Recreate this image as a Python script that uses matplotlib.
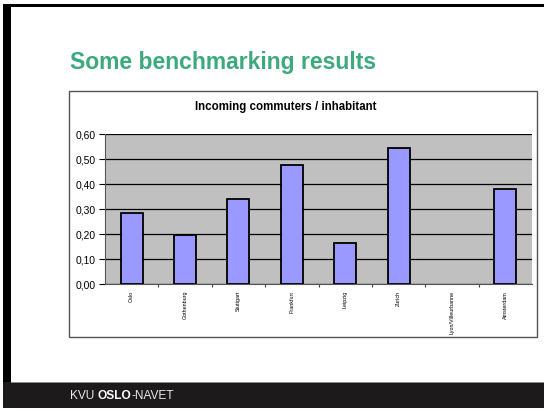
import matplotlib
matplotlib.use("Agg")
import matplotlib.pyplot as plt
from matplotlib.patches import Rectangle
from matplotlib.ticker import FuncFormatter, FixedLocator

plt.rcParams['font.family'] = ['Liberation Sans', 'DejaVu Sans']

cities = ["Oslo", "Gothenburg", "Stuttgart", "Frankfurt", "Leipzig", "Zurich",
          "Lyon/Villeurbanne", "Amsterdam"]
values = [0.283, 0.197, 0.341, 0.477, 0.165, 0.545, 0.0, 0.381]
y_ticks = [0.0, 0.1, 0.2, 0.3, 0.4, 0.5, 0.6]

W, H = 544, 411
fig = plt.figure(figsize=(W / 100, H / 100), dpi=100, facecolor="white")

def fx(px):
    return px / W

def fy(py):
    return 1 - py / H

# slide frame
fig.patches.append(Rectangle((fx(3), fy(7)), fx(541), 3 / H, transform=fig.transFigure,
                             facecolor="black", edgecolor="none", zorder=0))
fig.patches.append(Rectangle((fx(3), fy(408)), 8 / W, 404 / H, transform=fig.transFigure,
                             facecolor="black", edgecolor="none", zorder=0))
# footer
fig.patches.append(Rectangle((fx(3), fy(408)), fx(541), 26 / H, transform=fig.transFigure,
                             facecolor="#1c1a1a", edgecolor="none", zorder=0))
fig.patches.append(Rectangle((fx(11), fy(383)), fx(533), 1 / H, transform=fig.transFigure,
                             facecolor="#8a8a8a", edgecolor="none", zorder=0))

# chart box
fig.patches.append(Rectangle((fx(69), fy(337)), 468 / W, 246 / H, transform=fig.transFigure,
                             facecolor="white", edgecolor="#555555", linewidth=1.0, zorder=0))

# slide title
fig.text(fx(70), fy(62), "Some benchmarking results", fontsize=16.5, fontweight="bold",
         color="#3daa7d", ha="left", va="center")

# chart title
fig.text(fx(285.5), fy(107), "Incoming commuters / inhabitant", fontsize=8.3,
         fontweight="bold", color="black", ha="center", va="center")

# footer text
t1 = fig.text(fx(70), fy(396), "KVU ", fontsize=8.6, color="#e8e8e8", ha="left", va="center")
t2 = fig.text(0, 0, "OSLO", fontsize=8.6, color="#ffffff", fontweight="bold")
t3 = fig.text(0, 0, "-NAVET", fontsize=8.6, color="#e8e8e8")
fig.canvas.draw()
r = fig.canvas.get_renderer()
bb1 = t1.get_window_extent(r)
t2.set_position((bb1.x1 / W, fy(396)))
t2.set_va("center")
bb2 = t2.get_window_extent(r)
t3.set_position((bb2.x1 / W, fy(396)))
t3.set_va("center")

# plot area
ax = fig.add_axes([fx(105), fy(284), (532 - 105) / W, (284 - 134) / H])
ax.set_zorder(5)
ax.set_facecolor("#c0c0c0")
x = list(range(len(cities)))
lws = [1.3 if v > 0 else 0 for v in values]
ax.bar(x, values, width=0.41, color="#9999ff", edgecolor="black", linewidth=lws, zorder=3)
ax.set_xlim(-0.5, len(cities) - 0.5)
ax.set_ylim(0, 0.6)
ax.set_yticks(y_ticks)
ax.yaxis.set_major_formatter(FuncFormatter(lambda v, p: f"{v:.2f}".replace(".", ",")))
ax.yaxis.grid(True, color="black", linewidth=0.9, zorder=1)
ax.set_axisbelow(True)
ax.tick_params(axis="y", labelsize=7.4, length=4.5, width=0.8, pad=2.5, colors="black")
ax.set_xticks(x)
ax.set_xticklabels(cities, rotation=90, fontsize=3.9)
ax.tick_params(axis="x", which="major", length=0, pad=5)
ax.xaxis.set_minor_locator(FixedLocator([i + 0.5 for i in range(len(cities) - 1)]))
ax.tick_params(axis="x", which="minor", length=2.5, width=0.8, colors="#444444")
for s in ["top", "right"]:
    ax.spines[s].set_visible(False)
ax.spines["left"].set_color("#555555")
ax.spines["bottom"].set_color("#555555")

fig.savefig("out.png", dpi=100, facecolor="white")
